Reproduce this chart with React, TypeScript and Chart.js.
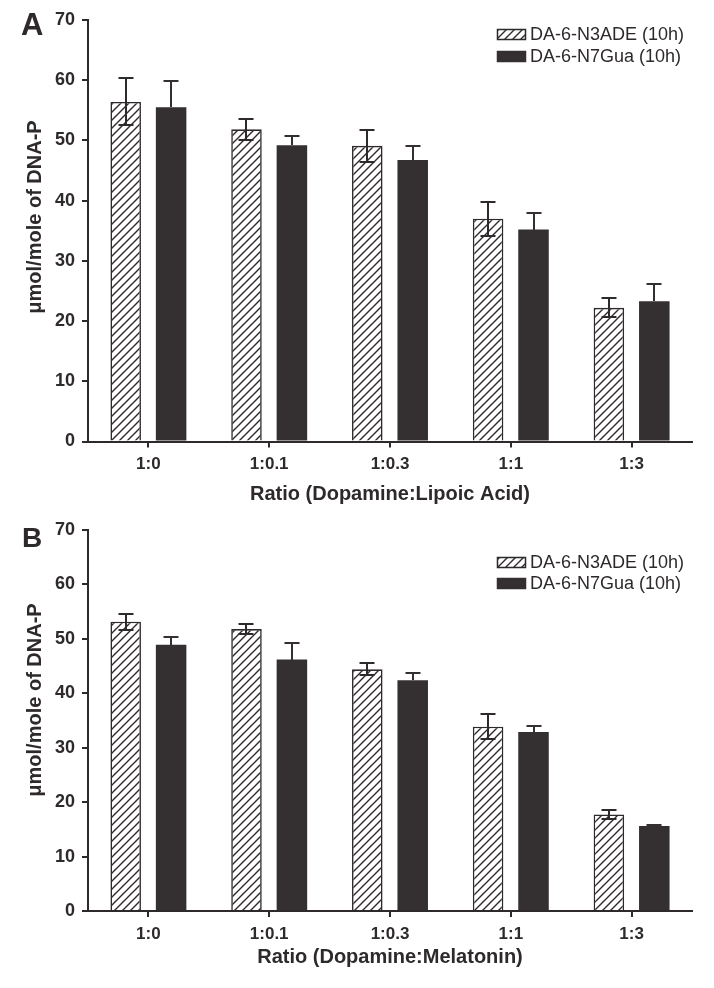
import React, { useEffect, useRef } from 'react';
import { Chart, registerables } from 'chart.js';

Chart.register(...registerables);

// ---------- data ----------
const categories = ['1:0', '1:0.1', '1:0.3', '1:1', '1:3'];
const seriesNames = ['DA-6-N3ADE (10h)', 'DA-6-N7Gua (10h)'];
const yTickMax = 70;
const yTickStep = 10;
const yAxisTitle = 'μmol/mole of DNA-P';

const lipoicTitle = 'Ratio (Dopamine:Lipoic Acid)';
const lipoicN3ADE = [56.4, 51.85, 49.1, 37.0, 22.2];
const lipoicN3ADEErr = [3.9, 1.75, 2.6, 2.8, 1.55];
const lipoicN7Gua = [55.5, 49.2, 46.75, 35.2, 23.3];
const lipoicN7GuaErr = [4.4, 1.6, 2.4, 2.8, 2.9];

const melatoninTitle = 'Ratio (Dopamine:Melatonin)';
const melatoninN3ADE = [53.15, 51.8, 44.4, 33.85, 17.75];
const melatoninN3ADEErr = [1.5, 0.9, 1.1, 2.3, 0.8];
const melatoninN7Gua = [48.9, 46.2, 42.4, 32.9, 15.6];
const melatoninN7GuaErr = [1.35, 3.0, 1.35, 1.0, 0.25];

// ---------- style ----------
const INK = '#2e2a2b';
const DARK = '#342f30';
const FONT = '"Liberation Sans", Arial, Helvetica, sans-serif';

function makeHatch(ctx: CanvasRenderingContext2D) {
  const c = document.createElement('canvas');
  c.width = 8;
  c.height = 8;
  const g = c.getContext('2d')!;
  g.fillStyle = '#ffffff';
  g.fillRect(0, 0, 8, 8);
  g.strokeStyle = INK;
  g.lineWidth = 1.4;
  g.beginPath();
  g.moveTo(-2, 10);
  g.lineTo(10, -2);
  g.moveTo(-2, 2);
  g.lineTo(2, -2);
  g.moveTo(6, 10);
  g.lineTo(10, 6);
  g.stroke();
  return ctx.createPattern(c, 'repeat')!;
}

type Panel = {
  letter: string;
  letterSize: number;
  letterX: number;
  letterY: number;
  title: string;
  titleY: number;
  yTitleX: number;
  yTitleY: number;
  legendRows: number[];
  a: number[];
  aErr: number[];
  b: number[];
  bErr: number[];
  height: number;
  padTop: number;
  xAxisHeight: number;
};

const errorBars = {
  id: 'errorBars',
  afterDatasetsDraw(chart: any) {
    const ctx = chart.ctx;
    const y = chart.scales.y;
    ctx.save();
    ctx.lineWidth = 2;
    chart.data.datasets.forEach((ds: any, i: number) => {
      const meta = chart.getDatasetMeta(i);
      ctx.strokeStyle = ds.errorColor;
      meta.data.forEach((bar: any, j: number) => {
        const v = ds.data[j];
        const e = ds.errors[j];
        const yt = Math.round(y.getPixelForValue(v + e));
        const yb = ds.upperOnly ? Math.round(y.getPixelForValue(v)) : Math.round(y.getPixelForValue(v - e));
        const x = Math.round(bar.x);
        const hw = 7.5;
        ctx.beginPath();
        ctx.moveTo(x, yt);
        ctx.lineTo(x, yb);
        ctx.moveTo(x - hw, yt);
        ctx.lineTo(x + hw, yt);
        if (!ds.upperOnly) {
          ctx.moveTo(x - hw, yb);
          ctx.lineTo(x + hw, yb);
        }
        ctx.stroke();
      });
    });
    ctx.restore();
  },
};

function makeOverlay(p: Panel) {
  return {
    id: 'overlay' + p.letter,
    beforeDraw(chart: any) {
      const ctx = chart.ctx;
      ctx.save();
      ctx.fillStyle = '#ffffff';
      ctx.fillRect(0, 0, chart.width, chart.height);
      ctx.restore();
    },
    afterDraw(chart: any) {
      const ctx = chart.ctx;
      const area = chart.chartArea;
      ctx.save();
      ctx.fillStyle = INK;
      // panel letter
      ctx.font = `bold ${p.letterSize}px ${FONT}`;
      ctx.textAlign = 'left';
      ctx.textBaseline = 'alphabetic';
      ctx.fillText(p.letter, p.letterX, p.letterY);
      // x title
      ctx.font = `bold 20px ${FONT}`;
      ctx.textAlign = 'center';
      ctx.textBaseline = 'middle';
      ctx.fillText(p.title, (area.left + area.right) / 2, p.titleY);
      // y title
      ctx.save();
      ctx.translate(p.yTitleX, p.yTitleY);
      ctx.rotate(-Math.PI / 2);
      ctx.fillText(yAxisTitle, 0, 0);
      ctx.restore();
      // legend
      const fills = [chart.data.datasets[0].backgroundColor, DARK];
      ctx.font = `18px ${FONT}`;
      ctx.textAlign = 'left';
      p.legendRows.forEach((cy, i) => {
        ctx.fillStyle = fills[i];
        ctx.fillRect(497, cy - 5, 29, 11);
        ctx.strokeStyle = i === 0 ? INK : DARK;
        ctx.lineWidth = 1.5;
        ctx.strokeRect(497.5, cy - 4.5, 28, 10);
        ctx.fillStyle = INK;
        ctx.fillText(seriesNames[i], 530, cy + 1);
      });
      ctx.restore();
    },
  };
}

function BarPanel({ p }: { p: Panel }) {
  const ref = useRef<HTMLCanvasElement>(null);
  useEffect(() => {
    const canvas = ref.current!;
    const ctx = canvas.getContext('2d')!;
    const hatch = makeHatch(ctx);
    const tickFont = { family: FONT, size: 17, weight: 'bold' as const };
    const chart = new Chart(canvas, {
      type: 'bar',
      data: {
        labels: categories,
        datasets: [
          {
            label: seriesNames[0],
            data: p.a,
            errors: p.aErr,
            errorColor: INK,
            upperOnly: false,
            backgroundColor: hatch,
            borderColor: INK,
            borderWidth: 1.6,
            categoryPercentage: 0.752,
            barPercentage: 0.672,
          } as any,
          {
            label: seriesNames[1],
            data: p.b,
            errors: p.bErr,
            errorColor: DARK,
            upperOnly: true,
            backgroundColor: DARK,
            borderColor: DARK,
            borderWidth: 0,
            categoryPercentage: 0.752,
            barPercentage: 0.672,
          } as any,
        ],
      },
      options: {
        animation: false,
        responsive: false,
        maintainAspectRatio: false,
        devicePixelRatio: 1,
        layout: { padding: { top: p.padTop, right: 22, left: 0, bottom: 0 } },
        plugins: { legend: { display: false }, tooltip: { enabled: false } },
        scales: {
          x: {
            grid: {
              display: true,
              drawOnChartArea: false,
              drawTicks: true,
              tickLength: 6,
              offset: false,
              color: INK,
              lineWidth: 2,
            },
            border: { display: true, color: INK, width: 2 },
            ticks: { font: tickFont, color: INK, padding: 7 },
            afterFit: (s: any) => {
              s.height = p.xAxisHeight;
            },
          },
          y: {
            min: 0,
            max: yTickMax,
            grid: {
              display: true,
              drawOnChartArea: false,
              drawTicks: true,
              tickLength: 6,
              color: INK,
              lineWidth: 2,
            },
            border: { display: true, color: INK, width: 2 },
            ticks: { stepSize: yTickStep, font: { family: FONT, size: 18, weight: 'bold' }, color: INK, padding: 7 },
            afterFit: (s: any) => {
              s.width = 88;
            },
          },
        },
      } as any,
      plugins: [makeOverlay(p), errorBars],
    });
    return () => chart.destroy();
  }, [p]);
  return <canvas ref={ref} width={714} height={p.height} style={{ display: 'block', width: 714, height: p.height }} />;
}

const panelA: Panel = {
  letter: 'A',
  letterSize: 31,
  letterX: 21,
  letterY: 35,
  title: lipoicTitle,
  titleY: 494,
  yTitleX: 35,
  yTitleY: 217,
  legendRows: [34, 56],
  a: lipoicN3ADE,
  aErr: lipoicN3ADEErr,
  b: lipoicN7Gua,
  bErr: lipoicN7GuaErr,
  height: 505,
  padTop: 20,
  xAxisHeight: 505 - 441.5,
};

const panelB: Panel = {
  letter: 'B',
  letterSize: 28,
  letterX: 22,
  letterY: 42,
  title: melatoninTitle,
  titleY: 452.5,
  yTitleX: 35,
  yTitleY: 195,
  legendRows: [57, 78],
  a: melatoninN3ADE,
  aErr: melatoninN3ADEErr,
  b: melatoninN7Gua,
  bErr: melatoninN7GuaErr,
  height: 483,
  padTop: 25,
  xAxisHeight: 483 - 406,
};

export default function App() {
  return (
    <div style={{ position: 'absolute', left: 0, top: 0, width: 714, height: 988, background: '#fff' }}>
      <BarPanel p={panelA} />
      <BarPanel p={panelB} />
    </div>
  );
}
